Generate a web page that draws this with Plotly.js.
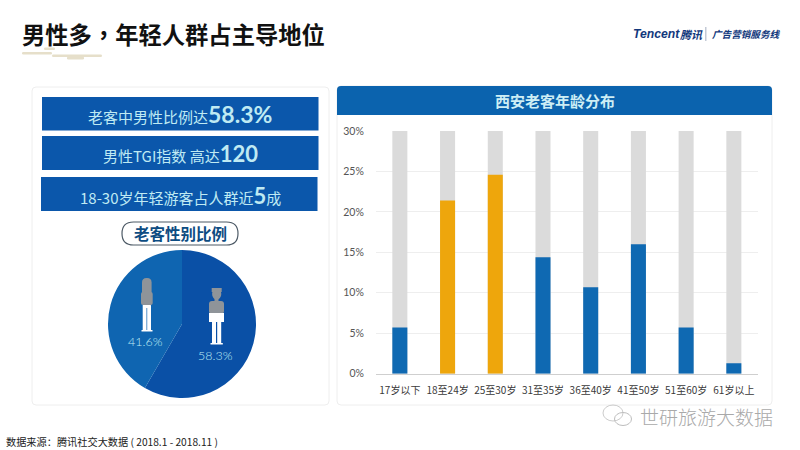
<!DOCTYPE html>
<html>
<head>
<meta charset="utf-8">
<script src="https://cdn.plot.ly/plotly-3.0.1.min.js"></script>
<style>
html, body { margin: 0; padding: 0; background: #fff; }
#chart { width: 800px; height: 450px; }
</style>
</head>
<body>
<div id="chart"></div>
<script>
const ageGroups = ['17岁以下', '18至24岁', '25至30岁', '31至35岁', '36至40岁', '41至50岁', '51至60岁', '61岁以上'];
const ageShare = [5.7, 21.4, 24.6, 14.4, 10.7, 16.0, 5.7, 1.3];
const ageTrack = [30, 30, 30, 30, 30, 30, 30, 30];
const ageColors = ['#0f69b2', '#eea60c', '#eea60c', '#0f69b2', '#0f69b2', '#0f69b2', '#0f69b2', '#0f69b2'];
const genderLabels = ['男性', '女性'];
const genderShare = [58.3, 41.6];
const genderColors = ['#0a50a6', '#0f65b1'];
const yTicks = [0, 5, 10, 15, 20, 25, 30];
const yTickLabels = ['0%', '5%', '10%', '15%', '20%', '25%', '30%'];

const W = 800, H = 450;
const CJK = '"Noto Sans CJK SC", "Noto Sans", sans-serif';
const px = x => x / W;
const py = y => 1 - y / H;

// pixel helpers, page furniture only
function box(x0, y0, x1, y1, fill, line, layer) {
    return {
        type: 'rect', xref: 'paper', yref: 'paper', layer: layer || 'below',
        x0: px(x0), x1: px(x1), y0: py(y0), y1: py(y1),
        fillcolor: fill, line: line ? { color: line, width: 1 } : { width: 0 }
    };
}

function roundPath(x0, y0, x1, y1, r) {
    const p = (x, y) => `${px(x)},${py(y)}`;
    return `M${p(x0 + r, y0)} L${p(x1 - r, y0)} Q${p(x1, y0)} ${p(x1, y0 + r)} L${p(x1, y1 - r)} Q${p(x1, y1)} ${p(x1 - r, y1)} L${p(x0 + r, y1)} Q${p(x0, y1)} ${p(x0, y1 - r)} L${p(x0, y0 + r)} Q${p(x0, y0)} ${p(x0 + r, y0)} Z`;
}

function round(x0, y0, x1, y1, r, fill, line, layer) {
    return {
        type: 'path', xref: 'paper', yref: 'paper', layer: layer || 'below',
        path: roundPath(x0, y0, x1, y1, r), fillcolor: fill,
        line: line ? { color: line, width: line === '#4d5a66' ? 1.2 : 1 } : { width: 0 }
    };
}

function dot(cx, cy, rx, ry, fill, line) {
    return {
        type: 'circle', xref: 'paper', yref: 'paper', layer: 'above',
        x0: px(cx - rx), x1: px(cx + rx), y0: py(cy + ry), y1: py(cy - ry),
        fillcolor: fill, line: line ? { color: line, width: 1 } : { width: 0 }
    };
}

function label(x, y, text, size, color, opts) {
    return Object.assign({
        xref: 'paper', yref: 'paper', x: px(x), y: py(y), text,
        showarrow: false, xanchor: 'center', yanchor: 'middle',
        font: { family: CJK, size, color }
    }, opts || {});
}

const big = (t, size) => `<b><span style="font-family:Lato;font-size:${size}px">${t}</span></b>`;
const bannerText = '#bfeaf3';

const shapes = [
    // panels
    round(32, 87, 329, 405, 4, '#ffffff', '#eeeeee'),
    round(337, 86, 772, 405, 4, '#ffffff', '#eeeeee'),
    round(337, 86, 772, 115, 4, '#0b63ae'),
    box(337, 105, 772, 115, '#0b63ae'),
    // banners
    box(42, 97, 318.5, 130.5, '#0b57ab'),
    box(42, 136, 318.5, 170, '#0b57ab'),
    box(41, 177, 317.5, 211, '#0b57ab'),
    // title swirls
    round(22, 52, 52, 54.5, 1.2, '#e6dfca'),
    round(44, 47.5, 55, 50, 1.2, '#e6dfca'),
    round(52, 54.5, 102, 57, 1.2, '#e6dfca'),
    round(67, 56.5, 84, 59.5, 1.2, '#e6dfca'),
    // capsule
    round(122, 222, 238, 245, 11.5, '#ffffff', '#4d5a66'),
    // logo divider
    box(705, 27, 706.5, 41, '#c3cad6'),
    // female figure
    round(142.7, 305, 151, 331, 0.5, '#ffffff', null, 'above'),
    box(146.5, 308, 147.2, 330, '#0f65b1', null, 'above'),
    box(141.5, 330, 152.5, 331.5, '#ffffff', null, 'above'),
    round(142, 278, 151.6, 305, 4.5, '#8f9499', null, 'above'),
    round(141, 292, 152.7, 305, 2, '#8f9499', null, 'above'),
    // male figure
    dot(216.7, 294, 4.6, 5.6, '#8f9499'),
    box(211.7, 288, 221.7, 292, '#8f9499', null, 'above'),
    box(214.5, 297, 218.5, 303, '#8f9499', null, 'above'),
    round(209, 301, 224, 314, 3, '#8f9499', null, 'above'),
    box(209, 313, 224, 322, '#ffffff', null, 'above'),
    box(212, 321, 216, 343, '#ffffff', null, 'above'),
    box(217.2, 321, 221.2, 343, '#ffffff', null, 'above'),
    box(210.5, 343, 222.8, 344.5, '#ffffff', null, 'above'),
    // watermark bubbles
    dot(613, 413, 10, 8, 'rgba(255,255,255,0)', '#cccccc'),
    dot(623, 419, 8.5, 6.5, 'rgba(255,255,255,0)', '#bdbdbd')
];

const annotations = [
    label(20, 34, '<b>男性多<span style="font-family:\'Noto Sans CJK TC\'">，</span>年轻人群占主导地位</b>', 23.3, '#111111', { xanchor: 'left' }),
    label(180, 114, `老客中男性比例达${big('58.3%', 23)}`, 15, bannerText),
    label(180, 153, `男性TGI指数 高达${big('120', 22)}`, 15, bannerText),
    label(180, 195, `18-30岁年轻游客占人群近${big('5', 22)}成`, 15, bannerText),
    label(180, 233.5, '<b>老客性别比例</b>', 15.5, '#0d4c82'),
    label(145, 341, genderShare[1].toFixed(1) + '%', 12.5, bannerText, { font: { family: 'Lato', size: 12.5, color: bannerText, weight: 300 } }),
    label(215.5, 355, genderShare[0].toFixed(1) + '%', 12.5, bannerText, { font: { family: 'Lato', size: 12.5, color: bannerText, weight: 300 } }),
    label(554.5, 100.5, '<b>西安老客年龄分布</b>', 15, '#cdeef5'),
    label(4, 441, '数据来源：腾讯社交大数据 ( 2018.1 - 2018.11 )', 10.2, '#222222', { xanchor: 'left' }),
    label(631, 34, '<b><i>Tencent</i></b>', 12.2, '#12387c', { xanchor: 'left', font: { family: 'Liberation Sans', size: 12.2, color: '#12387c' } }),
    label(678, 34, '<b><i>腾讯</i></b>', 11, '#12387c', { xanchor: 'left' }),
    label(710, 34, '<b><i>广告营销服务线</i></b>', 9.6, '#12387c', { xanchor: 'left' }),
    label(638, 416, '世研旅游大数据', 19, '#a9a9a9', {
        xanchor: 'left',
        font: { family: CJK, size: 19, color: '#a9a9a9', weight: 300 }
    })
];

const data = [
    {
        type: 'bar', x: ageGroups, y: ageTrack, marker: { color: '#dbdbdb' },
        hoverinfo: 'skip', showlegend: false
    },
    {
        type: 'bar', x: ageGroups, y: ageShare, marker: { color: ageColors },
        hovertemplate: '%{x}: %{y}%<extra></extra>', showlegend: false
    },
    {
        type: 'pie', labels: genderLabels, values: genderShare, sort: false,
        direction: 'clockwise', rotation: 0, textinfo: 'none', showlegend: false,
        marker: { colors: genderColors, line: { width: 0 } },
        domain: { x: [px(108), px(256)], y: [py(398), py(250)] }
    }
];

const layout = {
    width: W, height: H,
    margin: { l: 0, r: 0, t: 0, b: 0 },
    paper_bgcolor: '#ffffff', plot_bgcolor: 'rgba(0,0,0,0)',
    showlegend: false, barmode: 'overlay', bargap: 0.685,
    font: { family: CJK, size: 10, color: '#444444' },
    xaxis: {
        domain: [px(376), px(757.7)], type: 'category', fixedrange: true,
        showgrid: false, showline: true, linecolor: '#cfcfcf', linewidth: 1,
        ticks: 'outside', ticklen: 7, tickcolor: 'rgba(0,0,0,0)',
        tickfont: { family: CJK, size: 10, color: '#3a3a3a' }
    },
    yaxis: {
        domain: [py(373.7), py(131)], range: [0, 30], tickvals: yTicks, ticktext: yTickLabels,
        fixedrange: true, showline: false, zeroline: false,
        gridcolor: '#eeeeee', gridwidth: 1,
        ticks: 'outside', ticklen: 9, tickcolor: 'rgba(0,0,0,0)',
        tickfont: { family: 'Lato', size: 10.5, color: '#555555' }
    },
    shapes, annotations
};

Plotly.newPlot('chart', data, layout, { displayModeBar: false, responsive: false });
</script>
</body>
</html>
